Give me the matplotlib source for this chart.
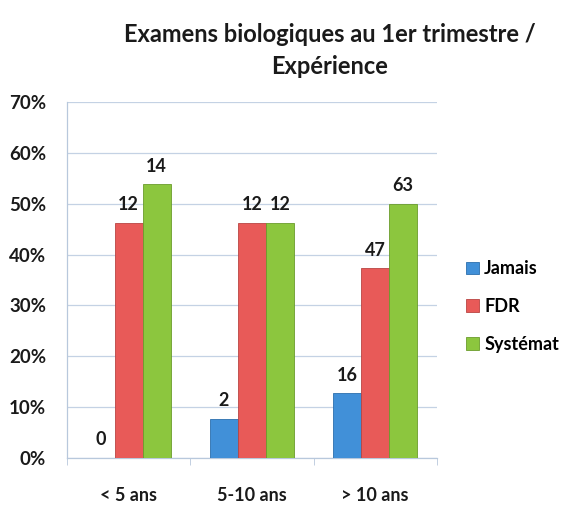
import matplotlib
matplotlib.use("Agg")
import matplotlib.pyplot as plt
import numpy as np
from matplotlib.patches import Patch

plt.rcParams['font.family'] = ['Lato', 'DejaVu Sans']

categories = ["< 5 ans", "5-10 ans", "> 10 ans"]
series_names = ["Jamais", "FDR", "Systémat"]
jamais = [0.0, 7.7, 12.7]
fdr = [46.2, 46.2, 37.3]
systemat = [53.8, 46.2, 50.0]
labels_jamais = ["0", "2", "16"]
labels_fdr = ["12", "12", "47"]
labels_systemat = ["14", "12", "63"]
yticks = [0, 10, 20, 30, 40, 50, 60, 70]
ytick_labels = ["0%", "10%", "20%", "30%", "40%", "50%", "60%", "70%"]
title = "Examens biologiques au 1er trimestre /\nExpérience"

colors = ["#4190d8", "#e85a58", "#8cc63e"]
edges = ["#2c6fae", "#b94442", "#6b9c2c"]

fig = plt.figure(figsize=(5.68, 5.05), dpi=100)
ax = fig.add_axes([0.118, 0.093, 0.651, 0.705])

x = np.arange(len(categories))
w = 0.227
data = [jamais, fdr, systemat]
labs = [labels_jamais, labels_fdr, labels_systemat]
for i, (vals, lb) in enumerate(zip(data, labs)):
    pos = x + (i - 1) * w
    bars = ax.bar(pos, vals, width=w, color=colors[i], edgecolor=edges[i],
                  linewidth=0.6, zorder=3)
    for b, t in zip(bars, lb):
        ax.annotate(t, (b.get_x() + b.get_width() / 2, b.get_height()),
                    xytext=(0, 7), textcoords="offset points",
                    ha="center", va="bottom", fontsize=13, fontweight="bold",
                    color="#1a1a1a")

ax.set_xlim(-0.5, 2.5)
ax.set_ylim(0, 70)
ax.set_yticks(yticks)
ax.set_yticklabels(ytick_labels, fontsize=13.5, fontweight="bold", color="#1a1a1a")
ax.set_xticks(x)
ax.set_xticklabels(categories, fontsize=13, fontweight="bold", color="#1a1a1a")
ax.tick_params(axis="x", length=0, pad=21)
ax.tick_params(axis="y", length=0, pad=15)
ax.set_xticks([-0.5, 0.5, 1.5, 2.5], minor=True)
ax.tick_params(axis="x", which="minor", length=5, color="#b8c8dc", direction="out")
ax.grid(axis="y", color="#c4d2e4", linewidth=0.9, zorder=0)
for s in ["top", "right"]:
    ax.spines[s].set_visible(False)
for s in ["left", "bottom"]:
    ax.spines[s].set_color("#b8c8dc")
    ax.spines[s].set_linewidth(0.9)

handles = [Patch(facecolor=c, edgecolor=e, linewidth=0.6) for c, e in zip(colors, edges)]
fig.legend(handles, series_names, loc="center left", bbox_to_anchor=(0.792, 0.393),
           frameon=False, prop={"weight": "bold", "size": 13},
           handlelength=0.7, handleheight=0.7, handletextpad=0.3, labelspacing=1.15)

fig.text(0.581, 0.9, title, ha="center", va="center", fontsize=17,
         fontweight="bold", color="#1a1a1a", linespacing=1.45)

fig.savefig("out.png", dpi=100)
